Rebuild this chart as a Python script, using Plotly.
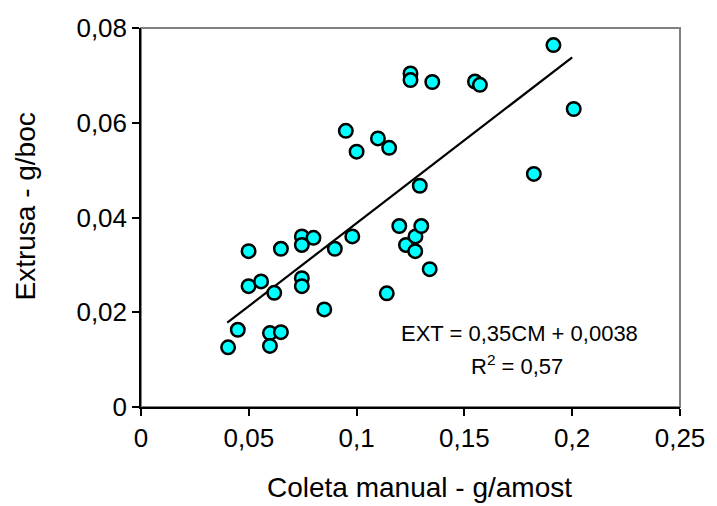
import plotly.graph_objects as go

# Data
coleta_manual = [0.0404, 0.0449, 0.0598, 0.0598, 0.0649, 0.0499, 0.0649, 0.0499, 0.0557, 0.0618,
                 0.0746, 0.0746, 0.0800, 0.0746, 0.0746, 0.0850, 0.0899, 0.0980, 0.1140, 0.1198,
                 0.1229, 0.1273, 0.1300, 0.1272, 0.1339, 0.0950, 0.1000, 0.1099, 0.1151, 0.1250,
                 0.1250, 0.1293, 0.1351, 0.1549, 0.1572, 0.1913, 0.2007, 0.1822]
extrusa = [0.0126, 0.0163, 0.0156, 0.0129, 0.0158, 0.0329, 0.0334, 0.0255, 0.0265, 0.0241,
           0.0360, 0.0342, 0.0357, 0.0272, 0.0255, 0.0206, 0.0334, 0.0360, 0.0240, 0.0382,
           0.0342, 0.0360, 0.0382, 0.0329, 0.0291, 0.0583, 0.0539, 0.0567, 0.0547, 0.0704,
           0.0690, 0.0467, 0.0686, 0.0687, 0.0680, 0.0764, 0.0629, 0.0492]

trend_slope = 0.35
trend_intercept = 0.0038
trend_x_range = [0.04, 0.20]

x_tick_vals = [0, 0.05, 0.10, 0.15, 0.20, 0.25]
x_tick_text = ["0", "0,05", "0,1", "0,15", "0,2", "0,25"]
y_tick_vals = [0, 0.02, 0.04, 0.06, 0.08]
y_tick_text = ["0", "0,02", "0,04", "0,06", "0,08"]

equation_text = "EXT = 0,35CM + 0,0038"
r2_text = "R<sup>2</sup> = 0,57"

FONT = "Liberation Sans, Arial, sans-serif"

trend_y = [trend_slope * v + trend_intercept for v in trend_x_range]

fig = go.Figure()
fig.add_trace(go.Scatter(x=trend_x_range, y=trend_y, mode="lines",
                         line=dict(color="black", width=2.2), hoverinfo="skip", showlegend=False))
fig.add_trace(go.Scatter(x=coleta_manual, y=extrusa, mode="markers",
                         marker=dict(size=13.5, color="#00FFFF", line=dict(color="black", width=2.5)),
                         showlegend=False))

# gray plot-area frame
fig.add_shape(type="rect", xref="paper", yref="paper", x0=0, y0=0, x1=1, y1=1,
              line=dict(color="#808080", width=2), layer="below")

fig.update_xaxes(range=[0, 0.25], tickvals=x_tick_vals, ticktext=x_tick_text,
                 showgrid=False, zeroline=False, showline=True, linecolor="black", linewidth=1.5,
                 ticks="outside", ticklen=7, tickcolor="black", tickwidth=1.5,
                 tickfont=dict(family=FONT, size=26, color="black"))
fig.update_yaxes(range=[0, 0.08], tickvals=y_tick_vals, ticktext=y_tick_text,
                 showgrid=False, zeroline=False, showline=True, linecolor="black", linewidth=1.5,
                 ticks="outside", ticklen=7, tickcolor="black", tickwidth=1.5,
                 tickfont=dict(family=FONT, size=26, color="black"))

fig.add_annotation(text=equation_text, x=0.1754, y=0.01562, xref="x", yref="y",
                   showarrow=False, font=dict(family=FONT, size=22, color="black"))
fig.add_annotation(text=r2_text, x=0.1745, y=0.00887, xref="x", yref="y",
                   showarrow=False, font=dict(family=FONT, size=22, color="black"))

fig.add_annotation(text="Coleta manual - g/amost", x=0.516, y=-0.212, xref="paper", yref="paper",
                   showarrow=False, xanchor="center", yanchor="middle",
                   font=dict(family=FONT, size=28, color="black"))
fig.add_annotation(text="Extrusa - g/boc", x=-0.214, y=0.528, xref="paper", yref="paper",
                   showarrow=False, textangle=-90, xanchor="center", yanchor="middle",
                   font=dict(family=FONT, size=28, color="black"))

fig.update_layout(width=717, height=506, margin=dict(l=141, r=30, t=28, b=99),
                  plot_bgcolor="white", paper_bgcolor="white")

fig.write_html("out.html")
